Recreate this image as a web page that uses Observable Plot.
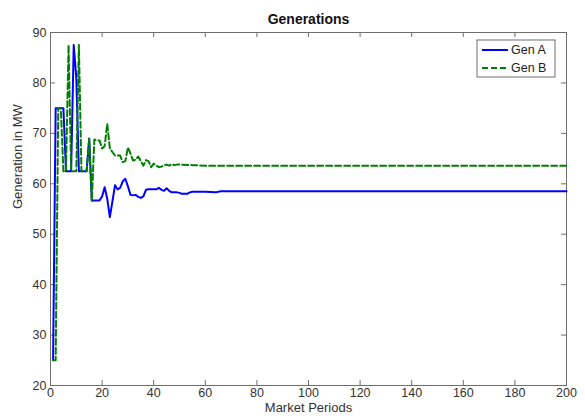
<!DOCTYPE html>
<html>
<head>
<meta charset="utf-8">
<script src="https://cdn.jsdelivr.net/npm/d3@7"></script>
<script src="https://cdn.jsdelivr.net/npm/@observablehq/plot@0.6"></script>
<style>
  body { margin: 0; background: #fff; }
  #chart { width: 585px; height: 418px; }
</style>
</head>
<body>
<div id="chart"></div>
<script>
// Market period index and generation (MW) for each unit
const periodsA = [1,2,3,4,5,6,7,8,9,10,11,12,13,14,15,16,17,18,19,20,21,22,23,24,25,26,27,28,29,30,31,32,33,34,35,36,37,38,39,40,41,42,43,44,45,46,47,48,49,50,51,52,53,54,55,60,64,66,200];
const genA    = [25,75,75,75,75,62.5,62.5,62.5,87.5,81,62.5,62.5,62.5,62.5,69,56.7,56.7,56.7,56.7,57.5,59.3,57,53.4,56.5,59.7,58.9,59.2,60.5,61,59.5,57.8,57.7,57.8,57.4,57.2,57.5,58.8,58.9,58.9,58.9,58.9,59.2,58.8,58.6,59.1,58.6,58.3,58.3,58.3,58.2,58,58,58,58.3,58.4,58.4,58.3,58.5,58.5];

const periodsB = [1,2,3,4,5,6,7,8,9,10,11,12,13,14,15,16,17,18,19,20,21,22,23,24,25,26,27,28,29,30,31,32,33,34,35,36,37,38,39,40,41,42,43,44,45,46,47,48,49,50,55,60,200];
const genB    = [25,25,75,75,62.5,62.5,87.5,62.5,62.5,62.5,87.5,62.5,62.5,62.5,69,56.6,68.8,68.6,68.6,67,67.5,71.9,67,66.3,65.6,65.6,65.6,64.3,64.5,67.2,66,64.6,64.8,65.4,64.5,63.6,64.7,64.5,63.3,64,63.6,63.3,63.4,63.7,63.8,63.6,63.9,63.7,63.8,63.8,63.7,63.6,63.6];

const seriesNames = ["Gen A", "Gen B"];
const seriesColors = ["#0000ff", "#008000"];
const xTicks = [0,20,40,60,80,100,120,140,160,180,200];
const yTicks = [20,30,40,50,60,70,80,90];

const rowsA = periodsA.map((p, i) => ({period: p, mw: genA[i]}));
const rowsB = periodsB.map((p, i) => ({period: p, mw: genB[i]}));

const W = 585, H = 418;
const margin = {top: 32, right: 19, bottom: 33, left: 50};
const innerW = W - margin.left - margin.right;
const innerH = H - margin.top - margin.bottom;
const tickLen = 5;
const axisColor = "#6e6e6e";

const plot = Plot.plot({
  width: W,
  height: H,
  marginTop: margin.top,
  marginRight: margin.right,
  marginBottom: margin.bottom,
  marginLeft: margin.left,
  style: {fontFamily: "'Liberation Sans', Arial, sans-serif", fontSize: "12px", color: "#333", background: "#fff"},
  x: {domain: [0, 200]},
  y: {domain: [20, 90]},
  marks: [
    Plot.axisX(xTicks, {tickSize: 0, tickPadding: 3, label: null, fontSize: 12.5}),
    Plot.axisY(yTicks, {tickSize: 0, tickPadding: 4, label: null, fontSize: 12.5}),
    // inward ticks on all four sides
    Plot.tickX(xTicks, {x: d => d, insetTop: innerH - tickLen, stroke: axisColor}),
    Plot.tickX(xTicks, {x: d => d, insetBottom: innerH - tickLen, stroke: axisColor}),
    Plot.tickY(yTicks, {y: d => d, insetRight: innerW - tickLen, stroke: axisColor}),
    Plot.tickY(yTicks, {y: d => d, insetLeft: innerW - tickLen, stroke: axisColor}),
    Plot.frame({stroke: axisColor}),
    Plot.line(rowsA, {x: "period", y: "mw", stroke: seriesColors[0], strokeWidth: 2, curve: "linear"}),
    Plot.line(rowsB, {x: "period", y: "mw", stroke: seriesColors[1], strokeWidth: 2, strokeDasharray: "6,3", curve: "linear"}),
    Plot.text(["Generations"], {frameAnchor: "top", dy: -18, fontWeight: "bold", fontSize: 14, fill: "#111"}),
    Plot.text(["Market Periods"], {frameAnchor: "bottom", dy: 26, fontSize: 13, fill: "#333"}),
    Plot.text(["Generation in MW"], {frameAnchor: "left", dx: -33, rotate: -90, fontSize: 13, fill: "#333"})
  ]
});

// legend box in the upper right corner of the axes
const svg = d3.select(plot);
const lg = svg.append("g").attr("transform", `translate(${W - margin.right - 89},${margin.top + 8})`);
lg.append("rect").attr("width", 78).attr("height", 37).attr("fill", "#fff").attr("stroke", axisColor);
seriesNames.forEach((name, i) => {
  const y = 10 + i * 18;
  lg.append("line").attr("x1", 5).attr("x2", 31).attr("y1", y).attr("y2", y)
    .attr("stroke", seriesColors[i]).attr("stroke-width", 2)
    .attr("stroke-dasharray", i === 1 ? "6,3" : null);
  lg.append("text").attr("x", 34).attr("y", y).attr("dy", "0.35em")
    .attr("text-anchor", "start")
    .attr("font-size", 12.5).attr("fill", "#222").text(name);
});

document.getElementById("chart").appendChild(plot);
</script>
</body>
</html>
